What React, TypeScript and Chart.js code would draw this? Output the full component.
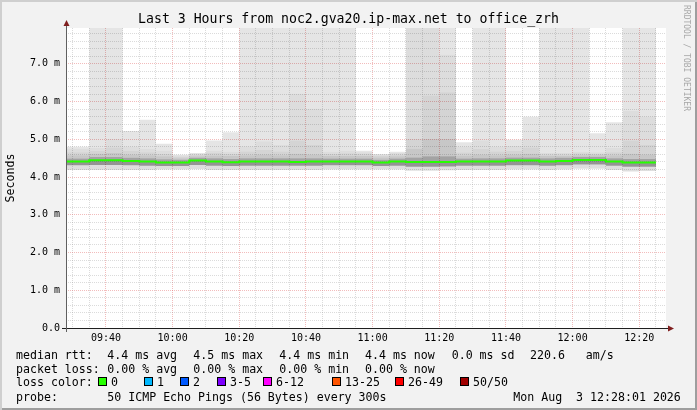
import React, { useEffect, useRef } from 'react';
import { Chart, registerables } from 'chart.js';

Chart.register(...registerables);

// ---------------- data ----------------
const TITLE = 'Last 3 Hours from noc2.gva20.ip-max.net to office_zrh';
const X_START = '09:28:01';
const X_END = '12:28:01';

// end time of each 5-minute RRD step
const TIMES = ['09:35','09:40','09:45','09:50','09:55','10:00','10:05','10:10','10:15','10:20',
  '10:25','10:30','10:35','10:40','10:45','10:50','10:55','11:00','11:05','11:10',
  '11:15','11:20','11:25','11:30','11:35','11:40','11:45','11:50','11:55','12:00',
  '12:05','12:10','12:15','12:20','12:25'];

// median rtt (ms)
const MEDIAN = [4.41,4.447,4.447,4.428,4.41,4.383,4.383,4.437,4.41,4.394,
  4.41,4.41,4.41,4.40,4.41,4.41,4.41,4.41,4.383,4.41,
  4.40,4.40,4.40,4.41,4.41,4.41,4.437,4.437,4.41,4.428,
  4.455,4.455,4.41,4.383,4.383];

// smoke levels (ms), from the lowest ping up to the highest
const SMOKE_MIN = [4.19,4.19,4.19,4.19,4.19,4.20,4.20,4.21,4.19,4.19,
  4.19,4.19,4.19,4.19,4.19,4.20,4.20,4.20,4.20,4.20,
  4.17,4.17,4.18,4.19,4.19,4.19,4.20,4.20,4.19,4.20,
  4.22,4.22,4.19,4.15,4.16];
const SMOKE_LO = [4.31,4.32,4.32,4.31,4.30,4.29,4.29,4.32,4.30,4.29,
  4.30,4.30,4.30,4.30,4.30,4.31,4.31,4.31,4.29,4.30,
  4.27,4.27,4.28,4.30,4.30,4.30,4.31,4.31,4.30,4.31,
  4.33,4.33,4.30,4.27,4.27];
const SMOKE_U1 = [4.49,4.53,4.53,4.51,4.50,4.47,4.46,4.51,4.50,4.48,
  4.50,4.50,4.50,4.50,4.50,4.49,4.49,4.49,4.46,4.49,
  4.52,4.55,4.55,4.49,4.50,4.50,4.52,4.52,4.50,4.51,
  4.53,4.53,4.50,4.48,4.48];
const SMOKE_U2 = [4.58,4.62,4.64,4.60,4.58,4.55,4.50,4.55,4.57,4.56,
  4.58,4.60,4.58,4.62,4.60,4.56,4.56,4.56,4.52,4.55,
  4.75,5.01,5.01,4.57,4.60,4.58,4.60,4.62,4.56,4.56,
  4.58,4.58,4.58,4.62,4.60];
const SMOKE_U3 = [4.66,4.70,4.78,4.70,4.66,4.62,4.54,4.59,4.64,4.62,
  4.68,4.72,4.68,4.97,4.85,4.62,4.63,4.62,4.56,4.60,
  5.01,6.16,6.25,4.65,4.75,4.68,4.70,4.78,4.60,4.60,
  4.63,4.62,4.66,4.97,4.85];
const SMOKE_U4 = [4.75,4.77,5.01,4.80,4.75,4.70,4.57,4.62,4.70,4.67,
  4.81,4.94,4.85,6.21,5.81,4.67,4.70,4.66,4.59,4.64,
  9.0,9.0,7.24,4.80,4.97,4.80,4.82,4.99,4.64,4.64,
  4.67,4.65,4.77,5.75,5.60];
const SMOKE_MAX = [4.80,9.0,9.0,5.22,5.52,4.88,4.59,4.64,4.97,5.19,
  9.0,9.0,9.0,9.0,9.0,9.0,9.0,4.70,4.61,4.67,
  9.0,9.0,9.0,4.92,9.0,9.0,4.99,5.60,9.0,9.0,
  9.0,5.16,5.45,9.0,9.0];

const X_TICK_LABELS = ['09:40','10:00','10:20','10:40','11:00','11:20','11:40','12:00','12:20'];
const Y_TICK_LABELS = ['0.0','1.0 m','2.0 m','3.0 m','4.0 m','5.0 m','6.0 m','7.0 m'];
const Y_MAX = 7.95;

const LEGEND_RTT = ['median rtt:', '4.4 ms avg', '4.5 ms max', '4.4 ms min', '4.4 ms now', '0.0 ms sd', '220.6   am/s'];
const LEGEND_LOSS = ['packet loss:', '0.00 % avg', '0.00 % max', '0.00 % min', '0.00 % now'];
const LOSS_LABELS = ['0','1','2','3-5','6-12','13-25','26-49','50/50'];
const LOSS_COLORS = ['#26ff00','#00b8ff','#0059ff','#7e00ff','#ff00ff','#ff5500','#ff0000','#a10000'];
const PROBE_TEXT = '50 ICMP Echo Pings (56 Bytes) every 300s';
const DATE_TEXT = 'Mon Aug  3 12:28:01 2026';

// ---------------- helpers ----------------
const toMin = (s: string) => {
  const p = s.split(':').map(Number);
  return p[0] * 60 + p[1] + (p[2] || 0) / 60;
};
const XMIN = toMin(X_START);
const XMAX = toMin(X_END);
const MAJOR_X = X_TICK_LABELS.map(toMin);
const X_GRID: number[] = [];
for (let m = Math.ceil(XMIN / 5) * 5; m <= XMAX; m += 5) X_GRID.push(m);
const Y_GRID: number[] = [];
for (let k = 0; k / 5 <= Y_MAX; k++) Y_GRID.push(k / 5);

const pts = (arr: number[]) => [
  { x: XMIN, y: arr[0] },
  ...TIMES.map((t, i) => ({ x: toMin(t), y: arr[i] })),
];

const GRID = 'rgba(143,143,143,0.32)';
const MGRID = 'rgba(222,79,79,0.38)';
const MONO = "'DejaVu Sans Mono', monospace";

const LEVELS = [SMOKE_MIN, SMOKE_LO, MEDIAN, SMOKE_U1, SMOKE_U2, SMOKE_U3, SMOKE_U4, SMOKE_MAX];
const BAND_FILL = ['rgba(0,0,0,0.13)','rgba(0,0,0,0.42)','rgba(0,0,0,0.36)','rgba(0,0,0,0.22)','rgba(0,0,0,0.17)','rgba(0,0,0,0.135)','rgba(0,0,0,0.10)'];

const rrdPlugin = {
  id: 'rrdFrame',
  beforeDraw(chart: any) {
    const { ctx, chartArea: a } = chart;
    ctx.save();
    ctx.fillStyle = '#ffffff';
    ctx.fillRect(a.left, a.top, a.right - a.left, a.bottom - a.top);
    ctx.restore();
  },
  afterDatasetsDraw(chart: any) {
    const { ctx, chartArea: a } = chart;
    ctx.save();
    ctx.lineWidth = 1;
    // x axis
    ctx.strokeStyle = '#1f1f1f';
    ctx.beginPath();
    ctx.moveTo(a.left - 4, a.bottom + 0.5);
    ctx.lineTo(a.right + 4, a.bottom + 0.5);
    ctx.stroke();
    // y axis
    ctx.strokeStyle = '#606060';
    ctx.beginPath();
    ctx.moveTo(a.left + 0.5, a.bottom + 4);
    ctx.lineTo(a.left + 0.5, a.top - 3);
    ctx.stroke();
    // arrows
    ctx.fillStyle = '#801f1f';
    ctx.beginPath();
    ctx.moveTo(a.right + 2, a.bottom - 2.5);
    ctx.lineTo(a.right + 2, a.bottom + 3.5);
    ctx.lineTo(a.right + 8, a.bottom + 0.5);
    ctx.closePath();
    ctx.fill();
    ctx.beginPath();
    ctx.moveTo(a.left - 2.5, a.top - 2);
    ctx.lineTo(a.left + 3.5, a.top - 2);
    ctx.lineTo(a.left + 0.5, a.top - 8);
    ctx.closePath();
    ctx.fill();
    ctx.restore();
  },
};

export default function App() {
  const ref = useRef<HTMLCanvasElement>(null);

  useEffect(() => {
    if (!ref.current) return;
    const smoke = LEVELS.map((arr, i) => ({
      type: 'line' as const,
      data: pts(arr),
      stepped: 'after' as const,
      borderWidth: 0,
      borderColor: 'rgba(0,0,0,0)',
      pointRadius: 0,
      fill: i === 0 ? false : '-1',
      backgroundColor: i === 0 ? 'rgba(0,0,0,0)' : BAND_FILL[i - 1],
      order: 2,
    }));
    const median = {
      type: 'line' as const,
      data: pts(MEDIAN),
      stepped: 'after' as const,
      borderWidth: 2,
      borderColor: LOSS_COLORS[0],
      pointRadius: 0,
      fill: false,
      order: 0,
    };
    const chart = new Chart(ref.current, {
      type: 'line',
      data: { datasets: [...smoke, median] as any },
      plugins: [rrdPlugin],
      options: {
        animation: false,
        responsive: false,
        maintainAspectRatio: false,
        events: [],
        layout: { padding: { left: 0, top: 28, right: 31, bottom: 60 } },
        plugins: { legend: { display: false }, tooltip: { enabled: false }, title: { display: false } },
        scales: {
          x: {
            type: 'linear',
            min: XMIN,
            max: XMAX,
            afterBuildTicks: (s: any) => { s.ticks = X_GRID.map((v) => ({ value: v })); },
            afterFit: (s: any) => { s.height = 22; },
            ticks: {
              autoSkip: false,
              maxRotation: 0,
              padding: 2,
              color: '#000',
              font: { family: MONO, size: 10 },
              callback: (v: any) => {
                const i = MAJOR_X.findIndex((m) => Math.abs(m - Number(v)) < 1e-6);
                return i >= 0 ? X_TICK_LABELS[i] : '';
              },
            },
            grid: {
              color: (c: any) => (c.tick && MAJOR_X.some((m) => Math.abs(m - c.tick.value) < 1e-6) ? MGRID : GRID),
              lineWidth: 1,
              drawTicks: true,
              tickLength: 2,
              tickColor: 'rgba(0,0,0,0)',
            },
            border: { display: false, dash: [1, 1] },
          },
          y: {
            type: 'linear',
            min: 0,
            max: Y_MAX,
            afterBuildTicks: (s: any) => { s.ticks = Y_GRID.map((v) => ({ value: v })); },
            afterFit: (s: any) => { s.width = 66; },
            ticks: {
              autoSkip: false,
              padding: 3,
              color: '#000',
              font: { family: MONO, size: 10 },
              callback: (v: any) => {
                const n = Number(v);
                const r = Math.round(n);
                return Math.abs(n - r) < 1e-6 && Y_TICK_LABELS[r] !== undefined ? Y_TICK_LABELS[r] : '';
              },
            },
            grid: {
              color: (c: any) => (c.tick && Math.abs(c.tick.value - Math.round(c.tick.value)) < 1e-6 ? MGRID : GRID),
              lineWidth: 1,
              drawTicks: true,
              tickLength: 3,
              tickColor: 'rgba(0,0,0,0)',
            },
            border: { display: false, dash: [1, 1] },
            title: {
              display: true,
              text: 'Seconds',
              color: '#000',
              font: { family: MONO, size: 11.6 },
              padding: { top: 4, bottom: 0 },
            },
          },
        },
      } as any,
    });
    return () => chart.destroy();
  }, []);

  const rttX = [16, 107.3, 193.3, 279.3, 365, 451.7, 530];
  const lossX = [16, 107.3, 193.3, 279.3, 365];
  const lossTextX = [111, 157, 193, 230, 276, 345, 408, 473];
  const row = (top: number): React.CSSProperties => ({
    position: 'absolute', top, fontFamily: MONO, fontSize: 11.6, lineHeight: '14px', whiteSpace: 'pre', color: '#000',
  });

  return (
    <div style={{
      position: 'fixed', left: 0, top: 0, width: 697, height: 410, overflow: 'hidden',
      background: '#f2f2f2',
      boxShadow: 'inset 2px 2px 0 #cfcfcf, inset -2px -2px 0 #9e9e9e',
    }}>
      <canvas ref={ref} width={697} height={410} style={{ position: 'absolute', left: 0, top: 0 }} />
      <div style={{
        position: 'absolute', left: 0, width: 697, top: 11.4, textAlign: 'center',
        fontFamily: MONO, fontSize: 13.2, lineHeight: '16px', whiteSpace: 'pre', color: '#000',
      }}>{TITLE}</div>
      <div style={{
        position: 'absolute', left: 680, top: 5, transformOrigin: '0 0', transform: 'rotate(90deg) translateY(-12px)',
        fontFamily: MONO, fontSize: 8, lineHeight: '12px', whiteSpace: 'pre', color: '#a8a8a8',
      }}>RRDTOOL / TOBI OETIKER</div>

      {LEGEND_RTT.map((t, i) => (
        <span key={'r' + i} style={{ ...row(347.5), left: rttX[i] }}>{t}</span>
      ))}
      {LEGEND_LOSS.map((t, i) => (
        <span key={'l' + i} style={{ ...row(362.2), left: lossX[i] }}>{t}</span>
      ))}
      <span style={{ ...row(374.9), left: 16 }}>loss color:</span>
      {LOSS_LABELS.map((t, i) => (
        <React.Fragment key={'c' + i}>
          <span style={{
            position: 'absolute', left: lossTextX[i] - 13, top: 377, width: 9, height: 9,
            boxSizing: 'border-box', border: '1px solid #000', background: LOSS_COLORS[i],
          }} />
          <span style={{ ...row(374.9), left: lossTextX[i] }}>{t}</span>
        </React.Fragment>
      ))}
      <span style={{ ...row(389.9), left: 16 }}>probe:</span>
      <span style={{ ...row(389.9), left: 107.3 }}>{PROBE_TEXT}</span>
      <span style={{ ...row(389.9), left: 513.3 }}>{DATE_TEXT}</span>
    </div>
  );
}
